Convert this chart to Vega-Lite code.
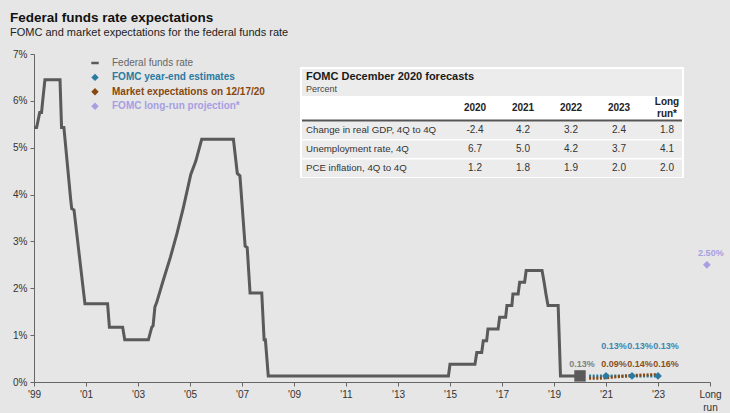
{
  "$schema": "https://vega.github.io/schema/vega-lite/v6.json",
  "width": 676,
  "height": 328,
  "autosize": {"type": "none"},
  "padding": {"left": 34, "top": 54, "right": 20, "bottom": 31},
  "background": "#e6e6e6",
  "config": {"view": {"stroke": null}, "font": "Liberation Sans"},
  "title": {
    "text": "Federal funds rate expectations",
    "subtitle": "FOMC and market expectations for the federal funds rate",
    "anchor": "start",
    "frame": "group",
    "dx": -24,
    "offset": 11,
    "font": "Liberation Sans",
    "fontSize": 13.5,
    "fontWeight": "bold",
    "color": "#111111",
    "subtitleFont": "Liberation Sans",
    "subtitleFontSize": 11,
    "subtitleColor": "#222222",
    "subtitlePadding": 3
  },
  "datasets": {
    "fedFunds": [
      {"year": 1999.00, "rate": 5.43}, {"year": 1999.10, "rate": 5.43},
      {"year": 1999.22, "rate": 5.75}, {"year": 1999.29, "rate": 5.75},
      {"year": 1999.33, "rate": 5.98}, {"year": 1999.42, "rate": 6.45},
      {"year": 2000.00, "rate": 6.45}, {"year": 2000.06, "rate": 5.43},
      {"year": 2000.15, "rate": 5.43}, {"year": 2000.41, "rate": 3.9},
      {"year": 2000.45, "rate": 3.7}, {"year": 2000.54, "rate": 3.67},
      {"year": 2000.90, "rate": 1.95}, {"year": 2000.96, "rate": 1.67},
      {"year": 2001.83, "rate": 1.67}, {"year": 2001.90, "rate": 1.17},
      {"year": 2002.41, "rate": 1.17}, {"year": 2002.49, "rate": 0.9},
      {"year": 2003.40, "rate": 0.9}, {"year": 2003.53, "rate": 1.17},
      {"year": 2003.58, "rate": 1.2}, {"year": 2003.65, "rate": 1.6},
      {"year": 2003.72, "rate": 1.7}, {"year": 2003.96, "rate": 2.15},
      {"year": 2004.25, "rate": 2.67}, {"year": 2004.50, "rate": 3.17},
      {"year": 2004.74, "rate": 3.71}, {"year": 2005.03, "rate": 4.43},
      {"year": 2005.22, "rate": 4.71}, {"year": 2005.45, "rate": 5.18},
      {"year": 2006.67, "rate": 5.18}, {"year": 2006.82, "rate": 4.45},
      {"year": 2006.92, "rate": 4.4}, {"year": 2006.95, "rate": 4.18},
      {"year": 2007.12, "rate": 2.9}, {"year": 2007.20, "rate": 2.87},
      {"year": 2007.31, "rate": 1.9}, {"year": 2007.76, "rate": 1.9},
      {"year": 2007.85, "rate": 0.9}, {"year": 2007.90, "rate": 0.9},
      {"year": 2008.01, "rate": 0.13}, {"year": 2014.94, "rate": 0.13},
      {"year": 2015.00, "rate": 0.38}, {"year": 2015.96, "rate": 0.38},
      {"year": 2016.03, "rate": 0.63}, {"year": 2016.22, "rate": 0.63},
      {"year": 2016.28, "rate": 0.88}, {"year": 2016.41, "rate": 0.88},
      {"year": 2016.46, "rate": 1.13}, {"year": 2016.85, "rate": 1.13},
      {"year": 2016.91, "rate": 1.38}, {"year": 2017.14, "rate": 1.38},
      {"year": 2017.19, "rate": 1.63}, {"year": 2017.38, "rate": 1.63},
      {"year": 2017.42, "rate": 1.88}, {"year": 2017.62, "rate": 1.88},
      {"year": 2017.68, "rate": 2.13}, {"year": 2017.87, "rate": 2.13},
      {"year": 2017.93, "rate": 2.38}, {"year": 2018.54, "rate": 2.38},
      {"year": 2018.62, "rate": 2.13}, {"year": 2018.69, "rate": 1.88},
      {"year": 2018.77, "rate": 1.63}, {"year": 2019.16, "rate": 1.63},
      {"year": 2019.25, "rate": 0.13}, {"year": 2020.00, "rate": 0.13}
    ],
    "paths": [
      {"series": "FOMC year-end estimates", "year": 2020.35, "rate": 0.13},
      {"series": "FOMC year-end estimates", "year": 2021, "rate": 0.13},
      {"series": "FOMC year-end estimates", "year": 2022, "rate": 0.13},
      {"series": "FOMC year-end estimates", "year": 2023, "rate": 0.13},
      {"series": "Market expectations on 12/17/20", "year": 2020.35, "rate": 0.08},
      {"series": "Market expectations on 12/17/20", "year": 2020.7, "rate": 0.08},
      {"series": "Market expectations on 12/17/20", "year": 2021, "rate": 0.09},
      {"series": "Market expectations on 12/17/20", "year": 2022, "rate": 0.14},
      {"series": "Market expectations on 12/17/20", "year": 2023, "rate": 0.16}
    ],
    "points": [
      {"series": "Federal funds rate", "year": 2020.0, "rate": 0.13},
      {"series": "FOMC year-end estimates", "year": 2021, "rate": 0.13},
      {"series": "FOMC year-end estimates", "year": 2022, "rate": 0.13},
      {"series": "FOMC year-end estimates", "year": 2023, "rate": 0.13},
      {"series": "Market expectations on 12/17/20", "year": 2021, "rate": 0.09},
      {"series": "Market expectations on 12/17/20", "year": 2022, "rate": 0.14},
      {"series": "Market expectations on 12/17/20", "year": 2023, "rate": 0.16},
      {"series": "FOMC long-run projection*", "year": 2024.88, "rate": 2.5}
    ],
    "forecastRows": [
      {"row": "Change in real GDP, 4Q to 4Q"},
      {"row": "Unemployment rate, 4Q"},
      {"row": "PCE inflation, 4Q to 4Q"}
    ],
    "forecastCols": [
      {"col": "2020", "head": "2020"},
      {"col": "2021", "head": "2021"},
      {"col": "2022", "head": "2022"},
      {"col": "2023", "head": "2023"},
      {"col": "Long run*", "head": ["Long", "run*"]}
    ],
    "forecastCells": [
      {"row": "Change in real GDP, 4Q to 4Q", "col": "2020", "v": "-2.4"},
      {"row": "Change in real GDP, 4Q to 4Q", "col": "2021", "v": "4.2"},
      {"row": "Change in real GDP, 4Q to 4Q", "col": "2022", "v": "3.2"},
      {"row": "Change in real GDP, 4Q to 4Q", "col": "2023", "v": "2.4"},
      {"row": "Change in real GDP, 4Q to 4Q", "col": "Long run*", "v": "1.8"},
      {"row": "Unemployment rate, 4Q", "col": "2020", "v": "6.7"},
      {"row": "Unemployment rate, 4Q", "col": "2021", "v": "5.0"},
      {"row": "Unemployment rate, 4Q", "col": "2022", "v": "4.2"},
      {"row": "Unemployment rate, 4Q", "col": "2023", "v": "3.7"},
      {"row": "Unemployment rate, 4Q", "col": "Long run*", "v": "4.1"},
      {"row": "PCE inflation, 4Q to 4Q", "col": "2020", "v": "1.2"},
      {"row": "PCE inflation, 4Q to 4Q", "col": "2021", "v": "1.8"},
      {"row": "PCE inflation, 4Q to 4Q", "col": "2022", "v": "1.9"},
      {"row": "PCE inflation, 4Q to 4Q", "col": "2023", "v": "2.0"},
      {"row": "PCE inflation, 4Q to 4Q", "col": "Long run*", "v": "2.0"}
    ]
  },
  "layer": [
    {
      "encoding": {
        "x": {
          "field": "year",
          "type": "quantitative",
          "scale": {"domain": [1999, 2025], "nice": false, "zero": false},
          "axis": {
            "title": null,
            "grid": false,
            "values": [1999, 2001, 2003, 2005, 2007, 2009, 2011, 2013, 2015, 2017, 2019, 2021, 2023, 2025],
            "labelExpr": "datum.value == 2025 ? ['Long', 'run'] : \"'\" + substring(format(datum.value, 'd'), 2)",
            "labelFont": "Liberation Sans",
            "labelFontSize": 10,
            "labelColor": "#333333",
            "labelLineHeight": 13,
            "labelPadding": 3,
            "labelFlush": false,
            "labelOverlap": false,
            "domainColor": "#666666",
            "tickColor": "#666666",
            "tickSize": 4
          }
        },
        "y": {
          "field": "rate",
          "type": "quantitative",
          "scale": {"domain": [0, 7], "nice": false},
          "axis": {
            "title": null,
            "grid": false,
            "values": [0, 1, 2, 3, 4, 5, 6, 7],
            "labelExpr": "datum.value + '%'",
            "labelFont": "Liberation Sans",
            "labelFontSize": 10,
            "labelColor": "#333333",
            "labelPadding": 3,
            "domainColor": "#666666",
            "tickColor": "#666666",
            "tickSize": 4
          }
        }
      },
      "layer": [
        {
          "data": {"name": "fedFunds"},
          "mark": {"type": "line", "strokeWidth": 3},
          "encoding": {
            "color": {
              "datum": "Federal funds rate",
              "type": "nominal",
              "title": null,
              "scale": {
                "domain": ["Federal funds rate", "FOMC year-end estimates", "Market expectations on 12/17/20", "FOMC long-run projection*"],
                "range": ["#5a5a5a", "#2b7aa1", "#87480f", "#a89ee3"]
              },
              "legend": {
                "title": null,
                "orient": "none",
                "legendX": 56,
                "legendY": 4,
                "direction": "vertical",
                "padding": 0,
                "labelFont": "Liberation Sans",
                "labelFontSize": 10,
                "labelOffset": 12,
                "rowPadding": 4.4,
                "symbolSize": 55,
                "encode": {
                  "labels": {
                    "update": {
                      "fill": {"signal": "datum.value === 'Federal funds rate' ? '#666666' : scale('color', datum.value)"},
                      "fontWeight": {"signal": "datum.value === 'Federal funds rate' ? 'normal' : 'bold'"}
                    }
                  },
                  "symbols": {
                    "update": {
                      "shape": {"signal": "datum.value === 'Federal funds rate' ? 'stroke' : 'diamond'"},
                      "fill": {"signal": "scale('color', datum.value)"},
                      "stroke": {"signal": "scale('color', datum.value)"},
                      "strokeWidth": {"signal": "datum.value === 'Federal funds rate' ? 2.5 : 0"},
                      "opacity": {"value": 1}
                    }
                  }
                }
              }
            }
          }
        },
        {
          "data": {"name": "paths"},
          "mark": {"type": "line", "strokeWidth": 3, "strokeDash": [2, 1.6]},
          "encoding": {"color": {"field": "series", "type": "nominal", "title": null}}
        },
        {
          "data": {"name": "points"},
          "transform": [{"filter": "datum.series === 'Federal funds rate'"}],
          "mark": {"type": "point", "shape": "square", "filled": true, "size": 130, "color": "#5a5a5a", "opacity": 1},
          "encoding": {}
        },
        {
          "data": {"name": "points"},
          "transform": [{"filter": "datum.series === 'FOMC year-end estimates' || datum.series === 'FOMC long-run projection*'"}],
          "mark": {"type": "point", "shape": "diamond", "filled": true, "size": 60, "opacity": 1},
          "encoding": {"color": {"field": "series", "type": "nominal", "title": null}}
        },
        {
          "data": {"name": "points"},
          "transform": [
            {"filter": "datum.series === 'FOMC year-end estimates'"},
            {"calculate": "format(datum.rate, '.2f') + '%'", "as": "label"}
          ],
          "mark": {"type": "text", "dx": 8, "dy": -36, "fontSize": 9, "fontWeight": "bold", "color": "#3a87b3"},
          "encoding": {"y": {"datum": 0, "type": "quantitative"}, "text": {"field": "label"}}
        },
        {
          "data": {"name": "points"},
          "transform": [
            {"filter": "datum.series === 'Market expectations on 12/17/20'"},
            {"calculate": "format(datum.rate, '.2f') + '%'", "as": "label"}
          ],
          "mark": {"type": "text", "dx": 8, "dy": -18, "fontSize": 9, "fontWeight": "bold", "color": "#8c4f1a"},
          "encoding": {"y": {"datum": 0, "type": "quantitative"}, "text": {"field": "label"}}
        },
        {
          "data": {"name": "points"},
          "transform": [
            {"filter": "datum.series === 'Federal funds rate'"},
            {"calculate": "format(datum.rate, '.2f') + '%'", "as": "label"}
          ],
          "mark": {"type": "text", "dx": 2, "dy": -18, "fontSize": 9, "fontWeight": "bold", "color": "#808080"},
          "encoding": {"y": {"datum": 0, "type": "quantitative"}, "text": {"field": "label"}}
        },
        {
          "data": {"name": "points"},
          "transform": [
            {"filter": "datum.series === 'FOMC long-run projection*'"},
            {"calculate": "format(datum.rate, '.2f') + '%'", "as": "label"}
          ],
          "mark": {"type": "text", "dx": 4, "dy": -12, "fontSize": 9, "fontWeight": "bold", "color": "#a89ee3"},
          "encoding": {"text": {"field": "label"}}
        },
        {
          "data": {"values": [{"mark": "//"}]},
          "mark": {"type": "text", "fontSize": 10, "fontStyle": "italic", "color": "#666666"},
          "encoding": {
            "x": {"datum": 2024.1, "type": "quantitative"},
            "y": {"datum": 0, "type": "quantitative"},
            "text": {"field": "mark"}
          }
        }
      ]
    },
    {
      "layer": [
        {
          "data": {"values": [{"box": "table"}]},
          "mark": {"type": "rect", "color": "#ffffff", "xOffset": -175, "x2Offset": 17, "yOffset": -63, "y2Offset": 10},
          "encoding": {
            "x": {"datum": "2020", "type": "nominal", "scale": {"type": "point", "padding": 0, "domain": ["2020", "2021", "2022", "2023", "Long run*"], "range": [441, 633]}, "axis": null},
            "x2": {"datum": "Long run*"},
            "y": {"datum": "Change in real GDP, 4Q to 4Q", "type": "nominal", "scale": {"type": "point", "padding": 0, "domain": ["Change in real GDP, 4Q to 4Q", "Unemployment rate, 4Q", "PCE inflation, 4Q to 4Q"], "range": [76, 114]}, "axis": null},
            "y2": {"datum": "PCE inflation, 4Q to 4Q"}
          }
        },
        {
          "data": {"values": [{"box": "title band"}]},
          "mark": {"type": "rect", "color": "#ececec", "xOffset": -173, "x2Offset": 15, "yOffset": -61, "y2Offset": -34},
          "encoding": {
            "x": {"datum": "2020", "type": "nominal", "axis": null},
            "x2": {"datum": "Long run*"},
            "y": {"datum": "Change in real GDP, 4Q to 4Q", "type": "nominal", "axis": null},
            "y2": {"datum": "Change in real GDP, 4Q to 4Q"}
          }
        },
        {
          "data": {"name": "forecastRows"},
          "mark": {"type": "rect", "color": "#ececec", "xOffset": -173, "x2Offset": 15, "yOffset": -8.5, "y2Offset": 9},
          "encoding": {
            "x": {"datum": "2020", "type": "nominal", "axis": null},
            "x2": {"datum": "Long run*"},
            "y": {"field": "row", "type": "nominal", "axis": null},
            "y2": {"field": "row"}
          }
        },
        {
          "data": {"values": [{"line": "header"}]},
          "mark": {"type": "rule", "color": "#555555", "strokeWidth": 1.8, "xOffset": -173, "x2Offset": 15, "yOffset": -9.5},
          "encoding": {
            "x": {"datum": "2020", "type": "nominal", "axis": null},
            "x2": {"datum": "Long run*"},
            "y": {"datum": "Change in real GDP, 4Q to 4Q", "type": "nominal", "axis": null}
          }
        },
        {
          "data": {"values": [{"t": "FOMC December 2020 forecasts"}]},
          "mark": {"type": "text", "align": "left", "baseline": "middle", "dx": -169, "dy": -53, "fontSize": 11, "fontWeight": "bold", "color": "#1a1a1a"},
          "encoding": {
            "x": {"datum": "2020", "type": "nominal", "axis": null},
            "y": {"datum": "Change in real GDP, 4Q to 4Q", "type": "nominal", "axis": null},
            "text": {"field": "t"}
          }
        },
        {
          "data": {"values": [{"t": "Percent"}]},
          "mark": {"type": "text", "align": "left", "baseline": "middle", "dx": -169, "dy": -41, "fontSize": 9, "color": "#444444"},
          "encoding": {
            "x": {"datum": "2020", "type": "nominal", "axis": null},
            "y": {"datum": "Change in real GDP, 4Q to 4Q", "type": "nominal", "axis": null},
            "text": {"field": "t"}
          }
        },
        {
          "data": {"name": "forecastCols"},
          "transform": [{"filter": "datum.col !== 'Long run*'"}],
          "mark": {"type": "text", "align": "center", "baseline": "middle", "dy": -22, "fontSize": 10, "fontWeight": "bold", "color": "#222222"},
          "encoding": {
            "x": {"field": "col", "type": "nominal", "axis": null},
            "y": {"datum": "Change in real GDP, 4Q to 4Q", "type": "nominal", "axis": null},
            "text": {"field": "head"}
          }
        },
        {
          "data": {"name": "forecastCols"},
          "transform": [{"filter": "datum.col === 'Long run*'"}],
          "mark": {"type": "text", "align": "center", "baseline": "middle", "dy": -28, "fontSize": 10, "fontWeight": "bold", "lineHeight": 12, "color": "#222222"},
          "encoding": {
            "x": {"field": "col", "type": "nominal", "axis": null},
            "y": {"datum": "Change in real GDP, 4Q to 4Q", "type": "nominal", "axis": null},
            "text": {"field": "head"}
          }
        },
        {
          "data": {"name": "forecastRows"},
          "mark": {"type": "text", "align": "left", "baseline": "middle", "dx": -169, "fontSize": 9.7, "color": "#333333"},
          "encoding": {
            "x": {"datum": "2020", "type": "nominal", "axis": null},
            "y": {"field": "row", "type": "nominal", "axis": null},
            "text": {"field": "row"}
          }
        },
        {
          "data": {"name": "forecastCells"},
          "mark": {"type": "text", "align": "center", "baseline": "middle", "fontSize": 10, "color": "#333333"},
          "encoding": {
            "x": {"field": "col", "type": "nominal", "axis": null},
            "y": {"field": "row", "type": "nominal", "axis": null},
            "text": {"field": "v"}
          }
        }
      ]
    }
  ],
  "resolve": {"scale": {"x": "independent", "y": "independent"}}
}
